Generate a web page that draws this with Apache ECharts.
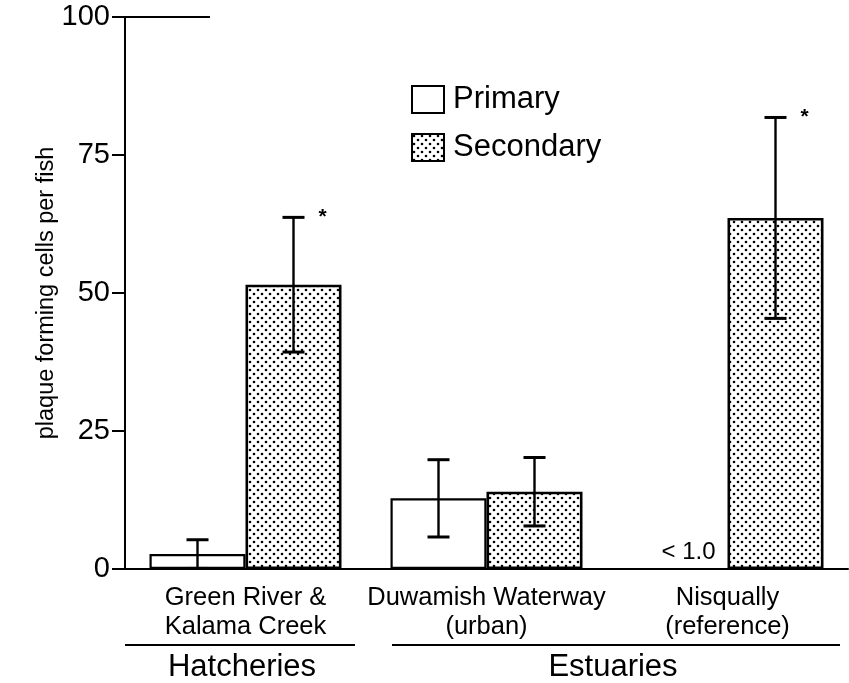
<!DOCTYPE html>
<html>
<head>
<meta charset="utf-8">
<script src="https://cdn.jsdelivr.net/npm/echarts@6/dist/echarts.min.js"></script>
<style>
html,body{margin:0;padding:0;background:#fff;}
#chart{width:849px;height:683px;}
</style>
</head>
<body>
<div id="chart"></div>
<script>
// ---- data ----
const categories = ['Green River &\nKalama Creek', 'Duwamish Waterway\n(urban)', 'Nisqually\n(reference)'];
const seriesNames = ['Primary', 'Secondary'];
const primaryMean = [2.7, 12.8, 0];
const primaryErr = [2.6, 7.0, null];
const primaryNote = ['', '', '< 1.0'];
const secondaryMean = [51.5, 14.0, 63.6];
const secondaryErr = [12.2, 6.2, 18.2];
const secondaryMark = ['*', '', '*'];
const yTicks = [0, 25, 50, 75, 100];
const groupNames = ['Hatcheries', 'Estuaries'];

const FONT = "'Liberation Sans', Arial, Helvetica, sans-serif";
const BAR_W = 96;

// dotted fill pattern
function makeDots() {
  const c = document.createElement('canvas');
  c.width = 8; c.height = 8;
  const g = c.getContext('2d');
  g.fillStyle = '#fff';
  g.fillRect(0, 0, 8, 8);
  g.fillStyle = '#000';
  [[2, 2], [6, 6]].forEach(p => { g.beginPath(); g.arc(p[0], p[1], 1.3, 0, Math.PI * 2); g.fill(); });
  return c;
}
const dotPattern = { image: makeDots(), repeat: 'repeat' };

function errorSeries(name, means, errs, marks, side) {
  return {
    type: 'custom',
    name: name + ' error',
    z: 5,
    silent: true,
    encode: { x: 0, y: 1 },
    data: means.map((m, i) => [i, m, errs[i] == null ? NaN : errs[i], marks ? marks[i] : '']),
    renderItem: function (params, api) {
      const i = api.value(0), m = api.value(1), e = api.value(2);
      if (e == null || isNaN(e)) return null;
      const x = api.coord([i, m])[0] + side * BAR_W / 2;
      const yTop = api.coord([i, m + e])[1];
      const yBot = api.coord([i, m - e])[1];
      const cap = 11;
      const st = { stroke: '#000', lineWidth: 2.4 };
      const children = [
        { type: 'line', shape: { x1: x, y1: yTop, x2: x, y2: yBot }, style: st },
        { type: 'line', shape: { x1: x - cap, y1: yTop, x2: x + cap, y2: yTop }, style: { stroke: '#000', lineWidth: 3 } },
        { type: 'line', shape: { x1: x - cap, y1: yBot, x2: x + cap, y2: yBot }, style: { stroke: '#000', lineWidth: 3 } }
      ];
      const mk = marks ? marks[i] : '';
      if (mk) {
        children.push({ type: 'text', style: { text: mk, x: x + 29, y: yTop, fill: '#000', font: 'bold 21px ' + FONT, align: 'center', verticalAlign: 'middle' } });
      }
      return { type: 'group', children: children };
    }
  };
}

const chart = echarts.init(document.getElementById('chart'), null, { renderer: 'canvas' });

const option = {
  backgroundColor: '#fff',
  animation: false,
  textStyle: { fontFamily: FONT, color: '#000' },
  grid: { left: 125, right: 1, top: 17, bottom: 114, containLabel: false },
  legend: {
    data: seriesNames,
    orient: 'vertical',
    left: 406,
    top: 79,
    itemWidth: 32,
    itemHeight: 27,
    itemGap: 17,
    icon: 'rect',
    textStyle: { fontSize: 31, color: '#000', fontFamily: FONT, padding: [3, 0, 0, 4] }
  },
  xAxis: {
    type: 'category',
    data: categories,
    axisLine: { lineStyle: { color: '#000', width: 2 } },
    axisTick: { alignWithLabel: true, length: 13, lineStyle: { color: '#000', width: 2 } },
    axisLabel: { fontSize: 25.5, lineHeight: 29, color: '#000', margin: 14, fontFamily: FONT, interval: 0 }
  },
  yAxis: {
    type: 'value',
    min: yTicks[0],
    max: yTicks[yTicks.length - 1],
    interval: yTicks[1] - yTicks[0],
    name: 'plaque forming cells per fish',
    nameLocation: 'middle',
    nameGap: 66,
    nameMoveOverlap: false,
    nameTextStyle: { fontSize: 23.5, color: '#000', fontFamily: FONT },
    axisLine: { show: true, lineStyle: { color: '#000', width: 2 } },
    axisTick: { show: true, length: 13, lineStyle: { color: '#000', width: 2 } },
    axisLabel: { fontSize: 29, color: '#000', margin: 15, fontFamily: FONT },
    splitLine: { show: false }
  },
  series: [
    {
      name: seriesNames[0],
      type: 'bar',
      barWidth: BAR_W,
      barGap: '0%',
      itemStyle: { color: '#fff', borderColor: '#000', borderWidth: 2.2 },
      data: primaryMean.map((v, i) => primaryNote[i] ? {
        value: v,
        itemStyle: { borderWidth: 0 },
        label: { show: true, formatter: primaryNote[i], position: 'insideBottom', distance: 5, offset: [9, 0], fontSize: 24, color: '#000', fontFamily: FONT }
      } : v)
    },
    {
      name: seriesNames[1],
      type: 'bar',
      barWidth: BAR_W,
      barGap: '0%',
      itemStyle: { color: dotPattern, borderColor: '#000', borderWidth: 2.6 },
      data: secondaryMean
    },
    errorSeries(seriesNames[0], primaryMean, primaryErr, null, -1),
    errorSeries(seriesNames[1], secondaryMean, secondaryErr, secondaryMark, 1)
  ],
  graphic: [
    { type: 'line', shape: { x1: 125, y1: 17, x2: 210, y2: 17 }, style: { stroke: '#000', lineWidth: 2 } },
    { type: 'line', shape: { x1: 125, y1: 645, x2: 355, y2: 645 }, style: { stroke: '#000', lineWidth: 2.2 } },
    { type: 'line', shape: { x1: 392, y1: 645, x2: 840, y2: 645 }, style: { stroke: '#000', lineWidth: 2.2 } },
    { type: 'text', x: 242, y: 667, style: { text: groupNames[0], font: '31px ' + FONT, fill: '#000', align: 'center', verticalAlign: 'middle' } },
    { type: 'text', x: 613, y: 667, style: { text: groupNames[1], font: '31px ' + FONT, fill: '#000', align: 'center', verticalAlign: 'middle' } }
  ]
};
chart.setOption(option);
</script>
</body>
</html>
